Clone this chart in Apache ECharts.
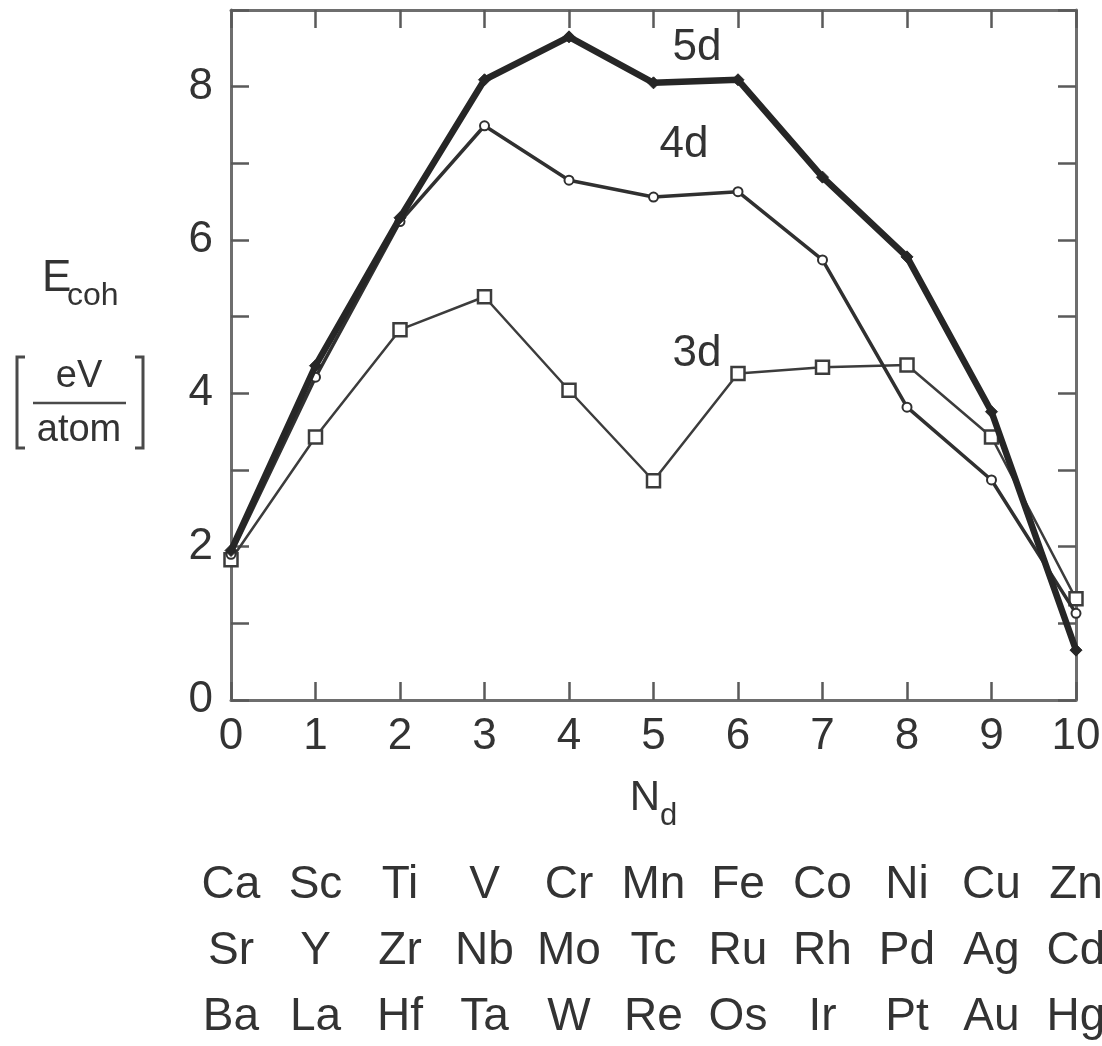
<!DOCTYPE html>
<html>
<head>
<meta charset="utf-8">
<title>Cohesive energy of transition metals</title>
<script src="https://cdn.jsdelivr.net/npm/echarts@6/dist/echarts.min.js"></script>
<style>
  html, body { margin: 0; padding: 0; background: #ffffff; }
  #chart { width: 1102px; height: 1046px; }
</style>
</head>
<body>
<div id="chart"></div>
<script>
// Number of d electrons
const nd = [0, 1, 2, 3, 4, 5, 6, 7, 8, 9, 10];

// Cohesive energy (eV/atom) for each transition series
const e3d = [1.83, 3.43, 4.83, 5.26, 4.04, 2.86, 4.26, 4.34, 4.37, 3.43, 1.32];
const e4d = [1.90, 4.21, 6.24, 7.49, 6.78, 6.56, 6.63, 5.74, 3.82, 2.87, 1.13];
const e5d = [1.95, 4.36, 6.29, 8.09, 8.65, 8.05, 8.09, 6.82, 5.78, 3.76, 0.65];

// Elements under each N_d value
const row3d = ['Ca', 'Sc', 'Ti', 'V', 'Cr', 'Mn', 'Fe', 'Co', 'Ni', 'Cu', 'Zn'];
const row4d = ['Sr', 'Y', 'Zr', 'Nb', 'Mo', 'Tc', 'Ru', 'Rh', 'Pd', 'Ag', 'Cd'];
const row5d = ['Ba', 'La', 'Hf', 'Ta', 'W', 'Re', 'Os', 'Ir', 'Pt', 'Au', 'Hg'];

// Y-axis tick values (labels only on even values)
const yTicks = [0, 1, 2, 3, 4, 5, 6, 7, 8, 9];

const FONT = '"Liberation Sans", Arial, Helvetica, sans-serif';
const INK = '#333333';
const FRAME = '#6e6e6e';

const pairs = vals => nd.map((n, i) => [n, vals[i]]);

const frameLine = { show: true, onZero: false, lineStyle: { color: FRAME, width: 3 } };
const innerTick = { show: true, inside: true, length: 18, lineStyle: { color: '#5a5a5a', width: 2.5 } };

function elementAxis(names, margin) {
  return {
    type: 'value', gridIndex: 0, position: 'bottom',
    min: 0, max: 10, interval: 1,
    axisLine: { show: false, onZero: false }, axisTick: { show: false }, splitLine: { show: false },
    axisLabel: {
      show: true, margin: margin, hideOverlap: false,
      showMinLabel: true, showMaxLabel: true,
      fontFamily: FONT, fontSize: 46, lineHeight: 46, color: INK,
      formatter: v => names[Math.round(v)] || ''
    }
  };
}

const chart = echarts.init(document.getElementById('chart'), null, { renderer: 'canvas' });

chart.setOption({
  backgroundColor: '#ffffff',
  animation: false,
  grid: { left: 231, right: 26, top: 10, bottom: 346, containLabel: false, outerBoundsMode: 'none' },
  xAxis: [
    {
      type: 'value', position: 'bottom', min: 0, max: 10, interval: 1,
      axisLine: frameLine, axisTick: innerTick, splitLine: { show: false },
      axisLabel: {
        margin: 15, fontFamily: FONT, fontSize: 44, lineHeight: 44, color: INK,
        showMinLabel: true, showMaxLabel: true, hideOverlap: false
      },
      name: '{n|N}{s|d}',
      nameLocation: 'middle',
      nameGap: 77,
      nameTextStyle: {
        rich: {
          n: { fontFamily: FONT, fontSize: 42, lineHeight: 46, color: INK, verticalAlign: 'top' },
          s: { fontFamily: FONT, fontSize: 31, lineHeight: 31, color: INK, verticalAlign: 'top', padding: [24, 0, 0, 0] }
        }
      }
    },
    {
      type: 'value', position: 'top', min: 0, max: 10, interval: 1,
      axisLine: frameLine, axisTick: innerTick, splitLine: { show: false },
      axisLabel: { show: false }
    },
    elementAxis(row3d, 162),
    elementAxis(row4d, 228),
    elementAxis(row5d, 294)
  ],
  yAxis: [
    {
      type: 'value', position: 'left', min: yTicks[0], max: yTicks[yTicks.length - 1], interval: 1,
      axisLine: frameLine, axisTick: innerTick, splitLine: { show: false },
      axisLabel: {
        margin: 18, fontFamily: FONT, fontSize: 44, color: INK,
        formatter: v => (v % 2 === 0 && v < 9 ? String(v) : '')
      }
    },
    {
      type: 'value', position: 'right', min: yTicks[0], max: yTicks[yTicks.length - 1], interval: 1,
      axisLine: frameLine, axisTick: innerTick, splitLine: { show: false },
      axisLabel: { show: false }
    }
  ],
  series: [
    {
      name: '3d', type: 'line', xAxisIndex: 0, yAxisIndex: 0, clip: false,
      data: pairs(e3d),
      lineStyle: { color: '#3c3c3c', width: 2.5 },
      symbol: 'rect', symbolSize: 13,
      itemStyle: { color: '#ffffff', borderColor: '#3c3c3c', borderWidth: 2.5 },
      z: 3
    },
    {
      name: '4d', type: 'line', xAxisIndex: 0, yAxisIndex: 0, clip: false,
      data: pairs(e4d),
      lineStyle: { color: '#303030', width: 3.5 },
      symbol: 'circle', symbolSize: 9,
      itemStyle: { color: '#ffffff', borderColor: '#303030', borderWidth: 2 },
      z: 4
    },
    {
      name: '5d', type: 'line', xAxisIndex: 0, yAxisIndex: 0, clip: false,
      data: pairs(e5d),
      lineStyle: { color: '#262626', width: 6.5 },
      symbol: 'diamond', symbolSize: 12,
      itemStyle: { color: '#262626', borderColor: '#262626', borderWidth: 1 },
      z: 5
    }
  ],
  graphic: [
    // series names beside the curves
    { type: 'text', x: 697, y: 48, style: { text: '5d', font: '44px ' + FONT, fill: INK, align: 'center', verticalAlign: 'middle' } },
    { type: 'text', x: 684, y: 145, style: { text: '4d', font: '44px ' + FONT, fill: INK, align: 'center', verticalAlign: 'middle' } },
    { type: 'text', x: 697, y: 354, style: { text: '3d', font: '44px ' + FONT, fill: INK, align: 'center', verticalAlign: 'middle' } },
    // y-axis title: E_coh [eV / atom]
    { type: 'text', x: 42, y: 279, style: { text: 'E', font: '44px ' + FONT, fill: INK, align: 'left', verticalAlign: 'middle' } },
    { type: 'text', x: 67, y: 296, style: { text: 'coh', font: '32px ' + FONT, fill: INK, align: 'left', verticalAlign: 'middle' } },
    { type: 'text', x: 79, y: 377, style: { text: 'eV', font: '38px ' + FONT, fill: INK, align: 'center', verticalAlign: 'middle' } },
    { type: 'line', shape: { x1: 33, y1: 403, x2: 126, y2: 403 }, style: { stroke: '#4a4a4a', lineWidth: 2.5 } },
    { type: 'text', x: 79, y: 431, style: { text: 'atom', font: '38px ' + FONT, fill: INK, align: 'center', verticalAlign: 'middle' } },
    { type: 'polyline', shape: { points: [[25, 357], [17, 357], [17, 448], [25, 448]] }, style: { stroke: '#4a4a4a', lineWidth: 3, fill: null } },
    { type: 'polyline', shape: { points: [[135, 357], [143, 357], [143, 448], [135, 448]] }, style: { stroke: '#4a4a4a', lineWidth: 3, fill: null } }
  ]
});
</script>
</body>
</html>
